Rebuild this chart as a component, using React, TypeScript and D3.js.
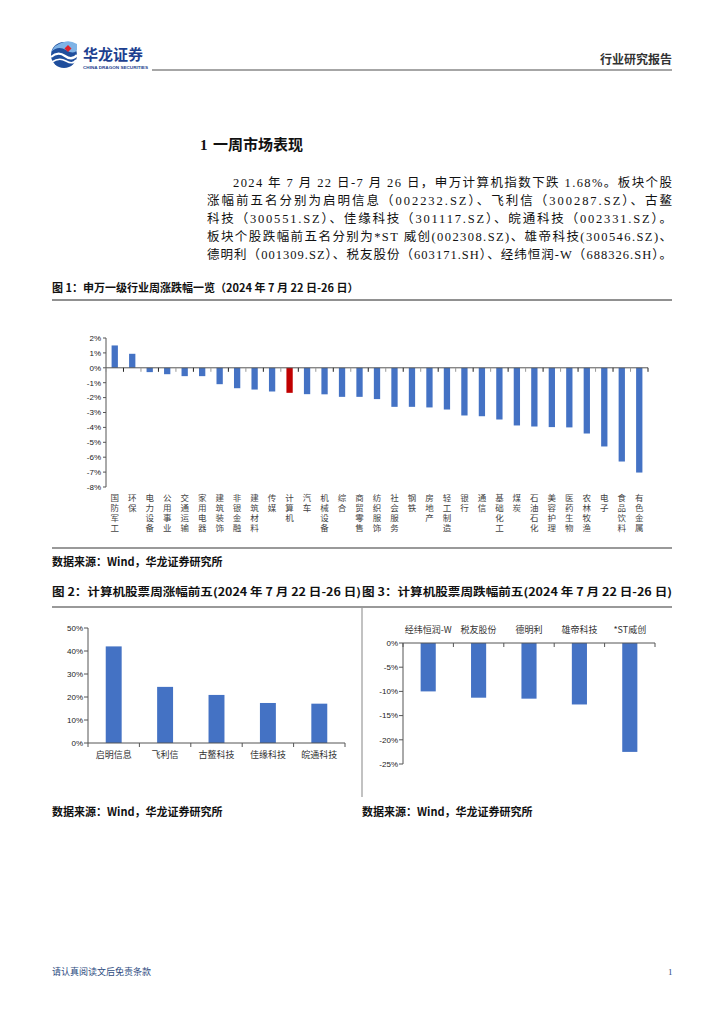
import * as d3 from "d3";

// 申万一级行业周涨跌幅 (%)
const industries = [
  "国防军工", "环保", "电力设备", "公用事业", "交通运输", "家用电器", "建筑装饰", "非银金融",
  "建筑材料", "传媒", "计算机", "汽车", "机械设备", "综合", "商贸零售", "纺织服饰",
  "社会服务", "钢铁", "房地产", "轻工制造", "银行", "通信", "基础化工", "煤炭",
  "石油石化", "美容护理", "医药生物", "农林牧渔", "电子", "食品饮料", "有色金属",
];
const industryChg = [
  1.5, 0.94, -0.29, -0.43, -0.56, -0.56, -1.1, -1.37,
  -1.46, -1.59, -1.68, -1.77, -1.78, -1.95, -1.95, -2.1,
  -2.62, -2.62, -2.66, -2.8, -3.2, -3.25, -3.47, -3.87,
  -3.94, -3.98, -4.0, -4.41, -5.28, -6.29, -7.03,
];
const industryTicks = [2, 1, 0, -1, -2, -3, -4, -5, -6, -7, -8];

// 涨幅前五
const gainers = ["启明信息", "飞利信", "古鳌科技", "佳缘科技", "皖通科技"];
const gainerChg = [42.0, 24.4, 20.9, 17.4, 17.1];
const gainerTicks = [0, 10, 20, 30, 40, 50];

// 跌幅前五
const losers = ["经纬恒润-W", "税友股份", "德明利", "雄帝科技", "*ST威创"];
const loserChg = [-10.0, -11.3, -11.5, -12.7, -22.5];
const loserTicks = [0, -5, -10, -15, -20, -25];

const paragraph = [
  "2024 年 7 月 22 日-7 月 26 日，申万计算机指数下跌 1.68%。板块个股",
  "涨幅前五名分别为启明信息（002232.SZ）、飞利信（300287.SZ）、古鳌",
  "科技（300551.SZ）、佳缘科技（301117.SZ）、皖通科技（002331.SZ）。",
  "板块个股跌幅前五名分别为*ST 威创(002308.SZ)、雄帝科技(300546.SZ)、",
  "德明利（001309.SZ）、税友股份（603171.SH）、经纬恒润-W（688326.SH）。",
];

const SERIF = '"Liberation Serif", "Noto Sans CJK SC", serif';
const SANS = '"Liberation Sans", "Noto Sans CJK SC", sans-serif';
const CJK = '"Noto Sans CJK SC", sans-serif';
const BLUE = "#4472C4";
const RED = "#C00000";
const AXIS = "#555";

function Chart1() {
  const x = d3.scaleBand<string>().domain(industries).range([106, 648]);
  const y = d3.scaleLinear().domain([-8, 2]).range([487, 338]);
  const step = x.step();
  const bw = step * 0.36;
  const y0 = y(0);
  const bounds = d3.range(industries.length + 1).map((i) => 106 + i * step);
  return (
    <g>
      {industries.map((name, i) => {
        const v = industryChg[i];
        const cx = (x(name) ?? 0) + step / 2;
        return (
          <rect
            key={name}
            x={cx - bw / 2}
            y={Math.min(y(v), y0)}
            width={bw}
            height={Math.abs(y(v) - y0)}
            fill={name === "计算机" ? RED : BLUE}
          />
        );
      })}
      <line x1={106} x2={106} y1={y(2)} y2={y(-8)} stroke={AXIS} />
      {industryTicks.map((t) => (
        <g key={t}>
          <line x1={103} x2={106} y1={y(t)} y2={y(t)} stroke={AXIS} />
          <text x={101} y={y(t)} dy="0.35em" textAnchor="end" fontSize={8} fontFamily={SANS} fill="#222">
            {t}%
          </text>
        </g>
      ))}
      <line x1={106} x2={648} y1={y0} y2={y0} stroke={AXIS} />
      {bounds.map((bx, i) => (
        <line key={i} x1={bx} x2={bx} y1={y0} y2={y0 + 4} stroke={i % 2 ? "#222" : "#999"} />
      ))}
      {industries.map((name) => {
        const cx = (x(name) ?? 0) + step / 2;
        return (
          <g key={name}>
            {Array.from(name).map((ch, k) => (
              <text
                key={k}
                x={cx}
                y={498 + k * 10}
                dy="0.35em"
                textAnchor="middle"
                fontSize={8.5}
                fontFamily={CJK}
                fill="#444"
              >
                {ch}
              </text>
            ))}
          </g>
        );
      })}
    </g>
  );
}

function Chart2() {
  const x = d3.scaleBand<string>().domain(gainers).range([88, 345]);
  const y = d3.scaleLinear().domain([0, 50]).range([743, 628]);
  const step = x.step();
  const bw = step * 0.31;
  const bounds = d3.range(gainers.length + 1).map((i) => 88 + i * step);
  return (
    <g>
      {gainers.map((name, i) => {
        const cx = (x(name) ?? 0) + step / 2;
        return (
          <rect key={name} x={cx - bw / 2} y={y(gainerChg[i])} width={bw} height={y(0) - y(gainerChg[i])} fill={BLUE} />
        );
      })}
      <line x1={88} x2={88} y1={y(50)} y2={y(0)} stroke={AXIS} />
      {gainerTicks.map((t) => (
        <g key={t}>
          <line x1={84} x2={88} y1={y(t)} y2={y(t)} stroke={AXIS} />
          <text x={83} y={y(t)} dy="0.35em" textAnchor="end" fontSize={8} fontFamily={SANS} fill="#222">
            {t}%
          </text>
        </g>
      ))}
      <line x1={88} x2={345} y1={y(0)} y2={y(0)} stroke={AXIS} />
      {bounds.map((bx, i) => (
        <line key={i} x1={bx} x2={bx} y1={y(0)} y2={y(0) + 4} stroke={AXIS} />
      ))}
      {gainers.map((name) => (
        <text
          key={name}
          x={(x(name) ?? 0) + step / 2}
          y={755}
          dy="0.35em"
          textAnchor="middle"
          fontSize={9}
          fontFamily={CJK}
          fill="#333"
        >
          {name}
        </text>
      ))}
    </g>
  );
}

function Chart3() {
  const x = d3.scaleBand<string>().domain(losers).range([403, 655]);
  const y = d3.scaleLinear().domain([-25, 0]).range([764, 643]);
  const step = x.step();
  const bw = step * 0.3;
  const bounds = d3.range(losers.length + 1).map((i) => 403 + i * step);
  return (
    <g>
      {losers.map((name, i) => {
        const cx = (x(name) ?? 0) + step / 2;
        return (
          <rect key={name} x={cx - bw / 2} y={y(0)} width={bw} height={y(loserChg[i]) - y(0)} fill={BLUE} />
        );
      })}
      <line x1={403} x2={403} y1={y(0)} y2={y(-25)} stroke={AXIS} />
      {loserTicks.map((t) => (
        <g key={t}>
          <line x1={399} x2={403} y1={y(t)} y2={y(t)} stroke={AXIS} />
          <text x={398} y={y(t)} dy="0.35em" textAnchor="end" fontSize={8} fontFamily={SANS} fill="#222">
            {t}%
          </text>
        </g>
      ))}
      <line x1={403} x2={655} y1={y(0)} y2={y(0)} stroke={AXIS} />
      {bounds.map((bx, i) => (
        <line key={i} x1={bx} x2={bx} y1={y(0)} y2={y(0) + 4} stroke={AXIS} />
      ))}
      {losers.map((name) => (
        <text
          key={name}
          x={(x(name) ?? 0) + step / 2}
          y={630}
          dy="0.35em"
          textAnchor="middle"
          fontSize={9}
          fontFamily={CJK}
          fill="#333"
        >
          {name}
        </text>
      ))}
    </g>
  );
}

function Logo() {
  return (
    <g>
      <circle cx={64} cy={55} r={13} fill="#1f4e9c" />
      <path d="M51,52 Q58,45 66,50 T77,50 L77,44 Q70,40 64,42 Q55,44 51,52 Z" fill="#7fb3e6" />
      <path d="M51,57 Q58,51 65,56 T77,55" fill="none" stroke="#fff" strokeWidth={2.2} />
      <path d="M52,62 Q59,57 66,61 T76,60" fill="none" stroke="#fff" strokeWidth={1.6} />
      <path d="M68,45 L71.5,48.5 L68,52 L64.5,48.5 Z" fill="#e0222a" />
      <text x={83} y={60} fontSize={15} fontWeight={700} fontFamily={CJK} fill="#1d3f8f">
        华龙证券
      </text>
      <text x={83} y={68.5} fontSize={4.3} fontWeight={700} fontFamily={SANS} fill="#1d3f8f" textLength={65} lengthAdjust="spacingAndGlyphs">
        CHINA DRAGON SECURITIES
      </text>
    </g>
  );
}

export default function App() {
  const lineY = [182, 200, 218, 236, 254];
  return (
    <div style={{ position: "absolute", left: 0, top: 0 }}>
      <svg width={724} height={1024} viewBox="0 0 724 1024" style={{ display: "block", background: "#fff" }}>
        <Logo />
        <line x1={152} x2={672} y1={70} y2={70} stroke="#888" strokeWidth={1.5} />
        <text x={672} y={64} textAnchor="end" fontSize={12} fontWeight={700} fontFamily={CJK} fill="#333">
          行业研究报告
        </text>

        <text x={200} y={150} fontSize={15} fontWeight={700} fontFamily={SERIF} fill="#111">
          <tspan>1</tspan>
          <tspan x={213}>一周市场表现</tspan>
        </text>
        {paragraph.map((ln, i) => (
          <text
            key={i}
            x={i === 0 ? 233 : 207}
            y={lineY[i] + 5}
            fontSize={12.5}
            fontFamily={SERIF}
            fill="#111"
            textLength={i === 0 ? 439 : 465}
            lengthAdjust="spacing"
          >
            {ln}
          </text>
        ))}

        <text x={52} y={292} fontSize={11} fontWeight={700} fontFamily={CJK} fill="#111">
          图 1：申万一级行业周涨跌幅一览（2024 年 7 月 22 日-26 日）
        </text>
        <line x1={52} x2={672} y1={300} y2={300} stroke="#222" strokeWidth={1} />
        <Chart1 />
        <line x1={52} x2={672} y1={548} y2={548} stroke="#777" strokeWidth={1.5} />
        <text x={52} y={566} fontSize={11} fontWeight={700} fontFamily={CJK} fill="#111">
          数据来源：Wind，华龙证券研究所
        </text>

        <text x={52} y={596} fontSize={11} fontWeight={700} fontFamily={CJK} fill="#111" textLength={309} lengthAdjust="spacingAndGlyphs">
          图 2：计算机股票周涨幅前五(2024 年 7 月 22 日-26 日)
        </text>
        <text x={362} y={596} fontSize={11} fontWeight={700} fontFamily={CJK} fill="#111" textLength={310} lengthAdjust="spacingAndGlyphs">
          图 3：计算机股票周跌幅前五(2024 年 7 月 22 日-26 日)
        </text>
        <line x1={52} x2={672} y1={607} y2={607} stroke="#777" strokeWidth={1.5} />
        <line x1={362} x2={362} y1={607} y2={797} stroke="#999" strokeWidth={1.2} />
        <Chart2 />
        <Chart3 />
        <text x={52} y={816} fontSize={11} fontWeight={700} fontFamily={CJK} fill="#111">
          数据来源：Wind，华龙证券研究所
        </text>
        <text x={362} y={816} fontSize={11} fontWeight={700} fontFamily={CJK} fill="#111">
          数据来源：Wind，华龙证券研究所
        </text>

        <text x={52} y={975} fontSize={9} fontFamily={CJK} fill="#2b4a80">
          请认真阅读文后免责条款
        </text>
        <text x={668} y={975} fontSize={9} fontFamily={SERIF} fill="#2b4a80">
          1
        </text>
      </svg>
    </div>
  );
}
